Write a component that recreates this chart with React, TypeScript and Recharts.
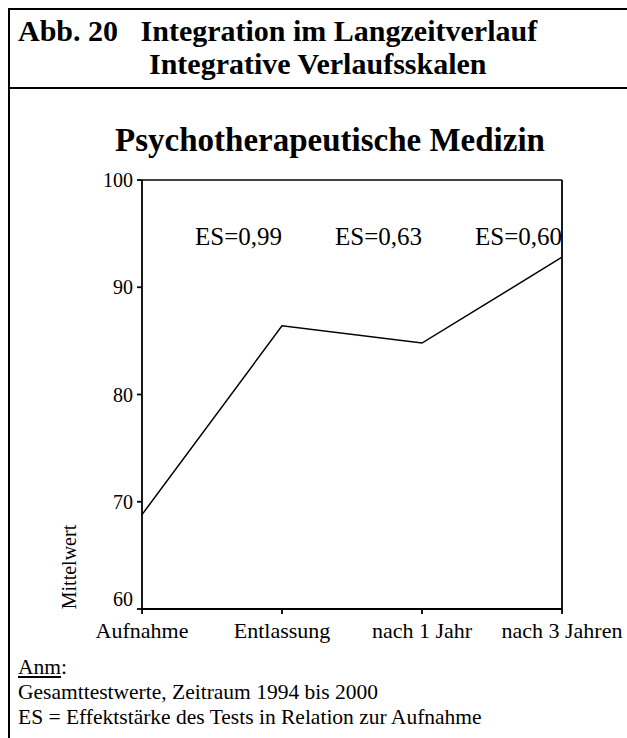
import React from 'react';
import { LineChart, Line, XAxis, YAxis, ReferenceLine, LabelList } from 'recharts';

// values
const categories = ['Aufnahme', 'Entlassung', 'nach 1 Jahr', 'nach 3 Jahren'];
const meanValues = [68.8, 86.4, 84.8, 92.8];
const effectSizes = ['', 'ES=0,99', 'ES=0,63', 'ES=0,60'];
const yTicks = [60, 70, 80, 90, 100];

const chartData = categories.map((name, i) => ({
  name,
  value: meanValues[i],
  es: effectSizes[i],
}));

const FONT = '"Liberation Serif", "Times New Roman", serif';
const PLOT_TOP = 10;

const EsLabel = (props: any) => {
  const { x, value } = props;
  if (!value) return null;
  return (
    <text x={x} y={PLOT_TOP + 65} textAnchor="end" fontFamily={FONT} fontSize={25} fill="#000">
      {value}
    </text>
  );
};

// the lowest tick label sits a bit above its tick, clear of the x axis
const YTick = (props: any) => {
  const { x, y, payload } = props;
  const shift = payload.value === 60 ? -10 : 0;
  return (
    <text x={x} y={y + shift} dy="0.355em" textAnchor="end" fontFamily={FONT} fontSize={20} fill="#000">
      {payload.value}
    </text>
  );
};

const YTitle = (props: any) => {
  const { viewBox } = props;
  const x = viewBox.x + 76;
  const y = viewBox.y + viewBox.height - 42;
  return (
    <text x={x} y={y} transform={`rotate(-90 ${x} ${y})`} textAnchor="middle" fontFamily={FONT} fontSize={20} fill="#000">
      Mittelwert
    </text>
  );
};

const App: React.FC = () => {
  return (
    <div style={{ position: 'absolute', left: 0, top: 0, width: 627, height: 738, overflow: 'hidden', background: '#fff', fontFamily: FONT, color: '#000' }}>
      {/* frame */}
      <div style={{ position: 'absolute', left: 8, top: 8, width: 700, height: 800, borderLeft: '2px solid #000', borderTop: '2px solid #000' }} />
      <div style={{ position: 'absolute', left: 8, top: 87, width: 700, height: 0, borderTop: '2px solid #000' }} />

      <div style={{ position: 'absolute', left: 18, top: 16, fontSize: 30, fontWeight: 'bold', whiteSpace: 'pre', lineHeight: '30px' }}>
        Abb. 20   Integration im Langzeitverlauf
      </div>
      <div style={{ position: 'absolute', left: 149, top: 49, fontSize: 30, fontWeight: 'bold', whiteSpace: 'pre', lineHeight: '30px' }}>
        Integrative Verlaufsskalen
      </div>

      <div style={{ position: 'absolute', left: 0, width: 660, textAlign: 'center', top: 123, fontSize: 33, fontWeight: 'bold', lineHeight: '34px' }}>
        Psychotherapeutische Medizin
      </div>

      <div style={{ position: 'absolute', left: 0, top: 170 }}>
        <LineChart width={627} height={480} data={chartData} margin={{ top: PLOT_TOP, right: 65, bottom: 11, left: 0 }}>
          <XAxis
            dataKey="name"
            stroke="#000"
            strokeWidth={1.8}
            tickSize={5}
            tickMargin={8}
            tick={{ fill: '#000', fontSize: 22, fontFamily: FONT }}
            interval={0}
            height={30}
          />
          <YAxis
            domain={[60, 100]}
            ticks={yTicks}
            stroke="#000"
            strokeWidth={1.8}
            tickSize={5}
            tickMargin={4}
            width={142}
            tick={<YTick />}
            label={<YTitle />}
          />
          <ReferenceLine y={100} stroke="#000" strokeWidth={1.5} />
          <ReferenceLine x="nach 3 Jahren" stroke="#000" strokeWidth={1.8} />
          <Line type="linear" dataKey="value" stroke="#000" strokeWidth={1.5} dot={false} isAnimationActive={false}>
            <LabelList dataKey="es" content={<EsLabel />} />
          </Line>
        </LineChart>
      </div>

      <div style={{ position: 'absolute', left: 18, top: 655, fontSize: 21.5, lineHeight: '25px' }}>
        <div><span style={{ textDecoration: 'underline' }}>Anm</span>:</div>
        <div>Gesamttestwerte, Zeitraum 1994 bis 2000</div>
        <div>ES = Effektstärke des Tests in Relation zur Aufnahme</div>
      </div>
    </div>
  );
};

export default App;
